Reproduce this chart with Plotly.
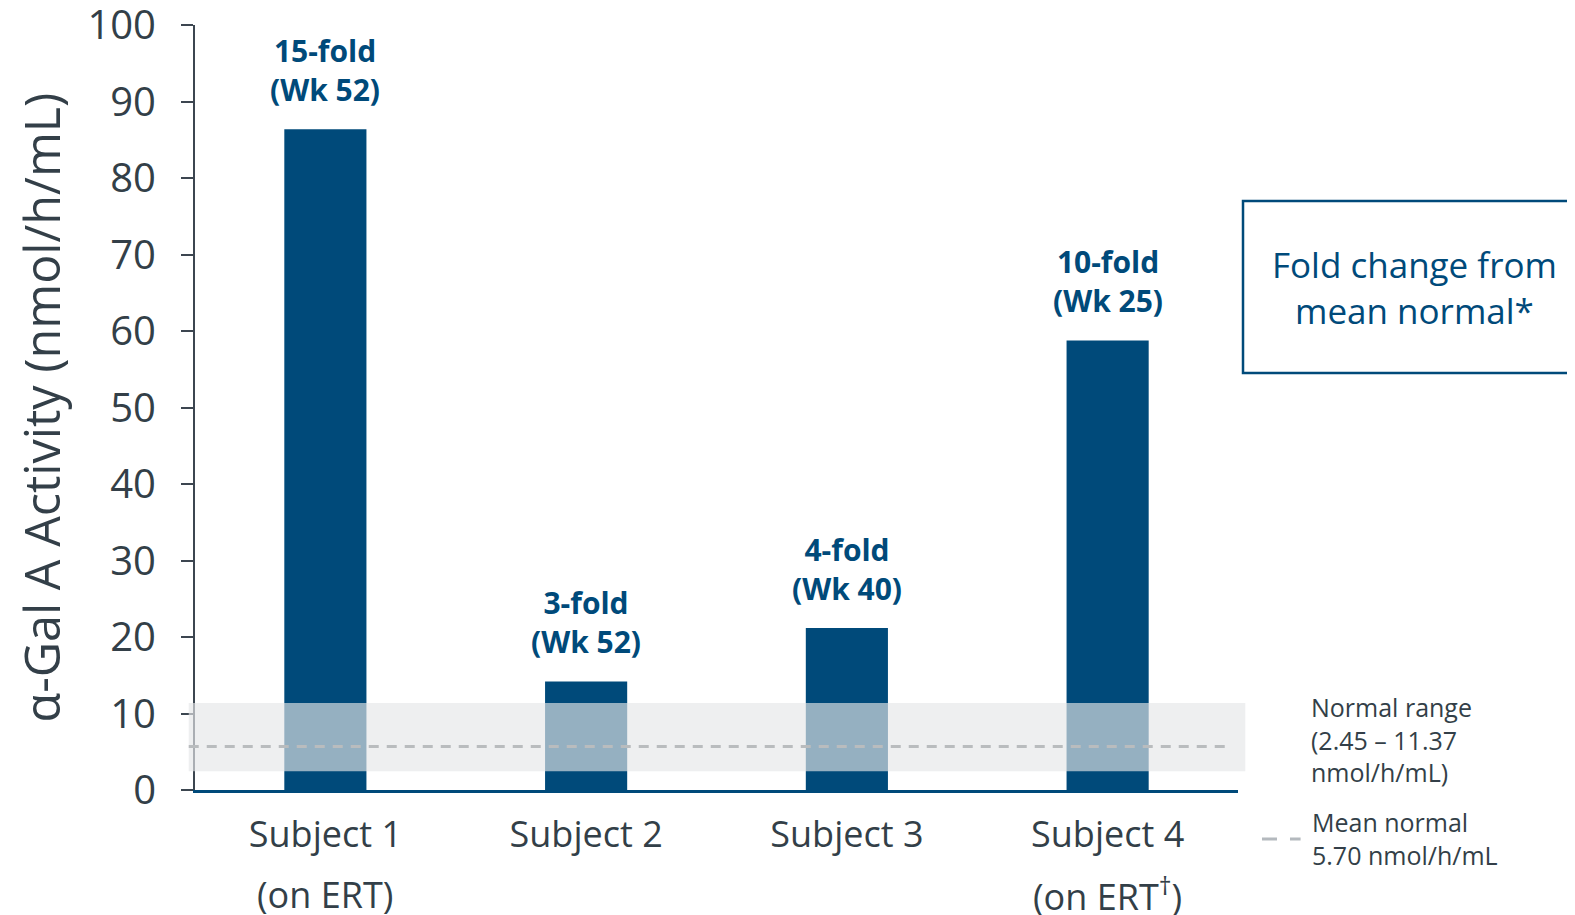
import plotly.graph_objects as go

# ---- data ----
categories = ["Subject 1", "Subject 2", "Subject 3", "Subject 4"]
sublabels = ["(on ERT)", "", "", "(on ERT<sup>†</sup>)"]
activity = [86.4, 14.2, 21.2, 58.8]
fold_labels = ["15-fold<br>(Wk 52)", "3-fold<br>(Wk 52)", "4-fold<br>(Wk 40)", "10-fold<br>(Wk 25)"]
normal_low = 2.45
normal_high = 11.37
mean_normal = 5.70
y_ticks = [0, 10, 20, 30, 40, 50, 60, 70, 80, 90, 100]

BLUE = "#004A7A"
GRAY_TXT = "#333F48"
FONT = "Open Sans"

fig = go.Figure()
fig.add_trace(go.Bar(
    x=categories, y=activity, marker=dict(color=BLUE, line=dict(width=0)),
    width=0.315, showlegend=False, hoverinfo="skip",
))

# fold-change labels
for c, v, t in zip(categories, activity, fold_labels):
    fig.add_annotation(x=c, y=v, text=t, showarrow=False, yanchor="bottom",
                       yshift=17, font=dict(family=FONT, size=30, color=BLUE, weight="bold"))

# second line of category labels
for c, s in zip(categories, sublabels):
    if s:
        fig.add_annotation(x=c, y=0, yref="paper", text=s, showarrow=False,
                           yanchor="middle", yshift=-104,
                           font=dict(family=FONT, size=36, color=GRAY_TXT))

# normal range band
fig.add_shape(type="rect", xref="paper", yref="y", x0=-0.006, x1=1.007,
              y0=normal_low, y1=normal_high, fillcolor="rgba(229,230,232,0.65)",
              line=dict(width=0), layer="above")
# mean normal dashed line
fig.add_shape(type="line", xref="paper", yref="y", x0=-0.006, x1=0.99,
              y0=mean_normal, y1=mean_normal,
              line=dict(color="rgba(185,188,190,1)", width=3, dash="10px,8px"), layer="above")

# legend-like texts on right
fig.add_annotation(xref="paper", yref="paper", x=1.068, y=0.066, xanchor="left", yanchor="middle",
                   align="left", showarrow=False,
                   text=f"Normal range<br>({normal_low:.2f} – {normal_high:.2f}<br>nmol/h/mL)",
                   font=dict(family=FONT, size=25, color=GRAY_TXT))
fig.add_annotation(xref="paper", yref="paper", x=1.069, y=-0.064, xanchor="left", yanchor="middle",
                   align="left", showarrow=False,
                   text=f"Mean normal<br>{mean_normal:.2f} nmol/h/mL",
                   font=dict(family=FONT, size=25, color=GRAY_TXT))
fig.add_shape(type="line", xref="paper", yref="paper", x0=1.023, x1=1.060, y0=-0.064, y1=-0.064,
              line=dict(color="rgba(180,185,190,1)", width=3, dash="15px,13px"))

# fold change box
fig.add_shape(type="rect", xref="paper", yref="paper", x0=1.0048, x1=1.33, y0=0.545, y1=0.770,
              line=dict(color=BLUE, width=2.5), fillcolor="rgba(0,0,0,0)")
fig.add_annotation(xref="paper", yref="paper", x=1.169, y=0.6575, xanchor="center", yanchor="middle",
                   showarrow=False, text="Fold change from<br>mean normal*", align="center",
                   font=dict(family=FONT, size=35, color=BLUE))

# page body has an 8px margin: offset the figure so the plot lands where it should
fig.update_layout(
    width=1567, height=907,
    margin=dict(l=187, r=337, t=17, b=125),
    plot_bgcolor="white", paper_bgcolor="white",
    bargap=0.685,
    font=dict(family=FONT, color=GRAY_TXT),
)
fig.update_xaxes(
    range=[-0.5, 3.5], showgrid=False, zeroline=False, automargin=False,
    showline=True, linecolor=BLUE, linewidth=2.5,
    ticks="", tickfont=dict(family=FONT, size=36, color=GRAY_TXT),
    ticklabelstandoff=11, ticklabeloverflow="allow",
)
fig.update_yaxes(
    range=[0, 100.05], tickvals=y_ticks, showgrid=False, zeroline=False, automargin=False,
    showline=True, linecolor="#3C4650", linewidth=2,
    ticks="outside", ticklen=12, tickwidth=2, tickcolor="#3C4650",
    tickfont=dict(family=FONT, size=40, color=GRAY_TXT), ticklabelstandoff=17,
    ticklabeloverflow="allow",
    title=dict(text="α-Gal A Activity (nmol/h/mL)", standoff=39,
               font=dict(family=FONT, size=48.5, color=GRAY_TXT)),
)

fig.write_html("out.html")
